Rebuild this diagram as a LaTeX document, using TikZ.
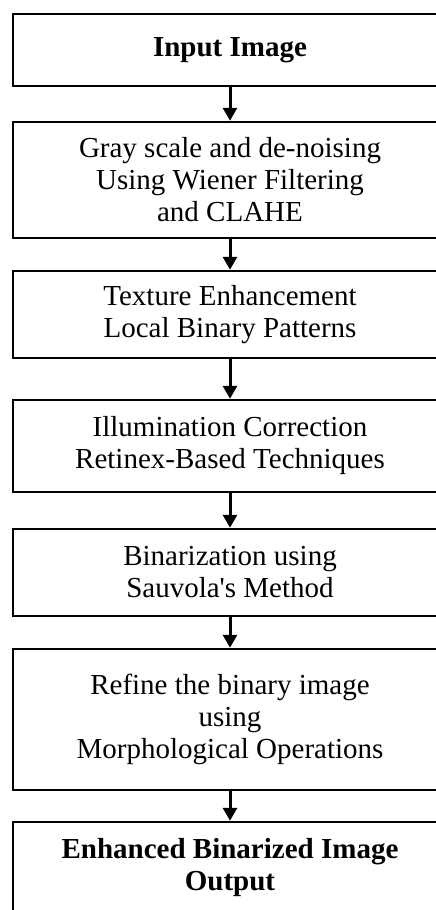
\documentclass[tikz,border=0pt]{standalone}
\usepackage{fontspec}
\setmainfont{Liberation Serif}[Ligatures=TeXOff]
\usetikzlibrary{arrows.meta}
\tikzset{
  box/.style={draw=black, line width=2.5pt, rectangle, minimum width=434pt, inner sep=0pt,
    align=center, font=\fontsize{29}{32}\selectfont},
  boldbox/.style={box, font=\fontsize{29}{32}\selectfont\bfseries},
  arr/.style={draw=black, line width=3pt, -{Triangle[length=13pt,width=14pt]}}
}
\begin{document}
\begin{tikzpicture}[x=1pt,y=-1pt]
\useasboundingbox (0,0) rectangle (436,910);
\clip (0,0) rectangle (436,910);
\node[boldbox, minimum height=72pt] (b1) at (230,50) {Input Image};
\node[box, minimum height=116pt] (b2) at (230,180) {Gray scale and de-noising\\Using Wiener Filtering\\and CLAHE};
\node[box, minimum height=87pt] (b3) at (230,314.5) {Texture Enhancement\\Local Binary Patterns};
\node[box, minimum height=92pt] (b4) at (230,446) {Illumination Correction\\Retinex-Based Techniques};
\node[box, minimum height=87pt] (b5) at (230,572.5) {Binarization using\\Sauvola's Method};
\node[box, minimum height=141pt] (b6) at (230,719.5) {Refine the binary image\\using\\Morphological Operations};
\node[boldbox, minimum height=92pt] (b7) at (230,868) {Enhanced Binarized Image\\Output};
\draw[arr] (b1.south) -- (b2.north);
\draw[arr] (b2.south) -- (b3.north);
\draw[arr] (b3.south) -- (b4.north);
\draw[arr] (b4.south) -- (b5.north);
\draw[arr] (b5.south) -- (b6.north);
\draw[arr] (b6.south) -- (b7.north);
\end{tikzpicture}
\end{document}
